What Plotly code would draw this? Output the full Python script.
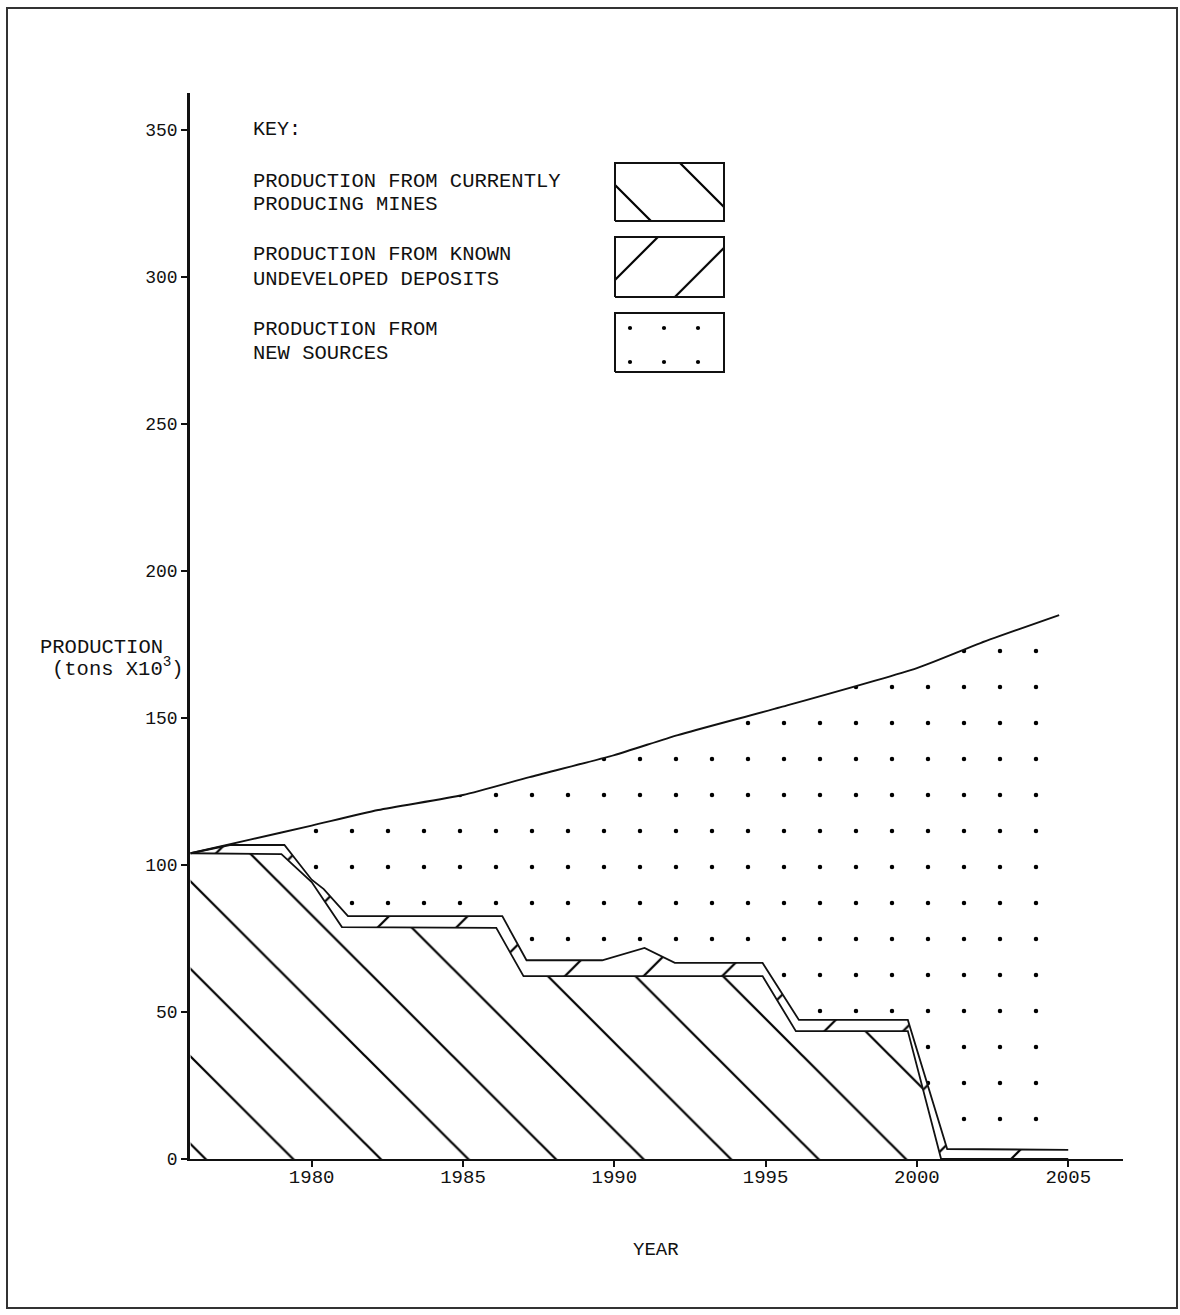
import plotly.graph_objects as go

# ---------------- data ----------------
# Total projected production (upper curve), tons x 10^3
total_years = [1976.0, 1978.0, 1980.0, 1982.2, 1985.0, 1987.2, 1990.0, 1992.1, 1995.5, 2000.0, 2002.1, 2004.7]
total_prod = [104.0, 108.7, 113.4, 118.7, 123.8, 129.9, 137.4, 144.2, 153.7, 167.0, 175.5, 185.0]

# Production from currently producing mines (lower boundary layer)
current_years = [1976.0, 1979.0, 1980.0, 1981.0, 1986.1, 1987.0, 1994.9, 1996.0, 1999.7, 2000.8, 2005.0]
current_prod = [104.0, 103.7, 94.2, 78.9, 78.6, 62.2, 62.2, 43.5, 43.5, 0.0, 0.0]

# Current mines + known undeveloped deposits (cumulative boundary)
known_years = [1976.0, 1977.3, 1979.1, 1980.0, 1980.4, 1981.2, 1986.3, 1987.1, 1989.6, 1991.0,
               1992.0, 1994.9, 1996.1, 1999.7, 2001.0, 2005.0]
known_cum = [104.0, 106.8, 106.8, 95.0, 91.8, 82.6, 82.6, 67.6, 67.6, 71.8,
             66.7, 66.7, 47.3, 47.3, 3.4, 3.1]

x_ticks = [1980, 1985, 1990, 1995, 2000, 2005]
y_ticks = [0, 50, 100, 150, 200, 250, 300, 350]

key_labels = [
    ["PRODUCTION FROM CURRENTLY", "PRODUCING MINES"],
    ["PRODUCTION FROM KNOWN", "UNDEVELOPED DEPOSITS"],
    ["PRODUCTION FROM", "NEW SOURCES"],
]

# ---------------- styling / layout ----------------
W, H = 1180, 1315
L, R, T, B = 190, 57, 93, 156
PW, PH = W - L - R, H - T - B
FONT = "Courier New, Liberation Mono, monospace"
INK = "#111111"


def px(xp):
    return (xp - L) / PW


def py(yp):
    return (H - B - yp) / PH


common = dict(fgcolor="#000000", bgcolor="white", fgopacity=1, fillmode="replace")
hatch_back = dict(shape="\\", size=61.9, solidity=0.036, **common)
hatch_fwd = dict(shape="/", size=55.6, solidity=0.04, **common)
dots = dict(shape=".", size=36, solidity=0.012, **common)

fig = go.Figure()

fig.add_trace(go.Scatter(
    x=current_years, y=current_prod, mode="lines", fill="tozeroy",
    line=dict(color=INK, width=1.8), fillpattern=hatch_back, fillcolor="white",
    name="Currently producing mines", hoverinfo="skip"))

fig.add_trace(go.Scatter(
    x=known_years, y=known_cum, mode="lines", fill="tonexty",
    line=dict(color=INK, width=1.8), fillpattern=hatch_fwd, fillcolor="white",
    name="Known undeveloped deposits", hoverinfo="skip"))

fig.add_trace(go.Scatter(
    x=total_years, y=total_prod, mode="lines", fill="tonexty",
    line=dict(color=INK, width=1.9, shape="spline", smoothing=0.6),
    fillpattern=dots, fillcolor="white",
    name="New sources", hoverinfo="skip"))

# ---------------- key swatches (small auxiliary axes) ----------------
# (box left, right, top, bottom in px, extra room on the left that sets the hatch phase)
boxes = [(615, 724, 163, 221, 22), (615, 724, 237, 297, 30), (615, 724, 313, 372, 0)]
patterns = [dict(hatch_back, size=61.5), dict(hatch_fwd, size=54.4), dict(dots, size=34)]
for i, ((x0, x1, y0, y1, extra), pat) in enumerate(zip(boxes, patterns)):
    ax = i + 2
    fig.add_trace(go.Scatter(
        x=[0, 1, 1, 0, 0], y=[0, 0, 1, 1, 0], mode="lines", fill="toself",
        line=dict(color=INK, width=2), fillpattern=pat, fillcolor="white",
        xaxis=f"x{ax}", yaxis=f"y{ax}", hoverinfo="skip", showlegend=False))
    pad = 2
    a, b = x0 - pad - extra, x1 + pad
    c, d = y0 - pad, y1 + pad
    kx, ky = (x1 - x0), (y1 - y0)
    fig.update_layout(**{
        f"xaxis{ax}": dict(domain=[px(a), px(b)], range=[(a - x0) / kx, (b - x0) / kx],
                           visible=False, fixedrange=True, anchor=f"y{ax}"),
        f"yaxis{ax}": dict(domain=[py(d), py(c)], range=[(y1 - d) / ky, (y1 - c) / ky],
                           visible=False, fixedrange=True, anchor=f"x{ax}"),
    })

annotations = []
annotations.append(dict(text="KEY:", x=px(251), y=py(130), xref="paper", yref="paper",
                        xanchor="left", yanchor="middle", showarrow=False,
                        font=dict(size=20, family=FONT, color=INK)))
line_y = [(181, 205), (255, 279), (329, 353)]
for (l1, l2), (y1, y2) in zip(key_labels, line_y):
    for txt, yy in ((l1, y1), (l2, y2)):
        annotations.append(dict(text=txt, x=px(251), y=py(yy), xref="paper", yref="paper",
                                xanchor="left", yanchor="middle", showarrow=False,
                                font=dict(size=20.5, family=FONT, color=INK)))

annotations.append(dict(text="PRODUCTION", x=px(38), y=py(647), xref="paper", yref="paper",
                        xanchor="left", yanchor="middle", showarrow=False,
                        font=dict(size=20.5, family=FONT, color=INK)))
annotations.append(dict(text="(tons X10<sup>3</sup>)", x=px(50), y=py(667), xref="paper", yref="paper",
                        xanchor="left", yanchor="middle", showarrow=False,
                        font=dict(size=20.5, family=FONT, color=INK)))
annotations.append(dict(text="YEAR", x=px(656), y=py(1250), xref="paper", yref="paper",
                        xanchor="center", yanchor="middle", showarrow=False,
                        font=dict(size=19, family=FONT, color=INK)))

fig.update_layout(
    width=W, height=H,
    margin=dict(l=L, r=R, t=T, b=B, pad=0),
    paper_bgcolor="white", plot_bgcolor="white",
    showlegend=False,
    font=dict(family=FONT, color=INK),
    annotations=annotations,
    xaxis=dict(range=[1975.98, 2006.81], tickmode="array", tickvals=x_ticks,
               ticktext=[str(v) for v in x_ticks],
               ticks="outside", ticklen=6, tickwidth=1.5, tickcolor=INK,
               ticklabelstandoff=-7,
               showline=True, linecolor=INK, linewidth=1.6, mirror=False,
               showgrid=False, zeroline=False, fixedrange=True,
               tickfont=dict(size=19, family=FONT, color=INK)),
    yaxis=dict(range=[0, 362.6], tickmode="array", tickvals=y_ticks,
               ticks="outside", ticklen=6, tickwidth=1.5, tickcolor=INK,
               showline=True, linecolor=INK, linewidth=2.5,
               showgrid=False, zeroline=False, fixedrange=True,
               tickfont=dict(size=18, family=FONT, color=INK)),
    shapes=[dict(type="rect", xref="paper", yref="paper",
                 x0=px(7), x1=px(1177), y0=py(1308), y1=py(8),
                 line=dict(color="#333333", width=2), fillcolor="rgba(0,0,0,0)", layer="below")],
)

fig.write_html("out.html", config={"displayModeBar": False},
               post_script="document.body.style.margin='0px';")
